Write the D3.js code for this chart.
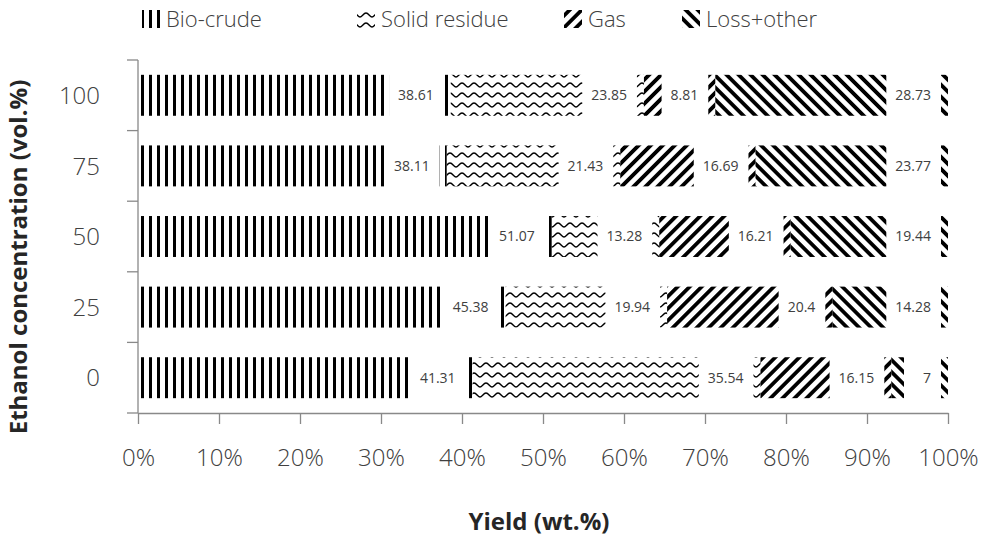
<!DOCTYPE html>
<html>
<head>
<meta charset="utf-8">
<script src="https://cdn.jsdelivr.net/npm/d3@7"></script>
<style>
  html, body { margin: 0; padding: 0; background: #fff; }
  svg { display: block; font-family: "Open Sans", "Noto Sans", sans-serif; }
</style>
</head>
<body>
<svg id="chart" width="987" height="537"></svg>
<script>
// Product yields by ethanol concentration (wt.%)
const concentrations = ["100", "75", "50", "25", "0"];
const seriesNames = ["Bio-crude", "Solid residue", "Gas", "Loss+other"];
const bioCrude     = [38.61, 38.11, 51.07, 45.38, 41.31];
const solidResidue = [23.85, 21.43, 13.28, 19.94, 35.54];
const gas          = [8.81, 16.69, 16.21, 20.4, 16.15];
const lossOther    = [28.73, 23.77, 19.44, 14.28, 7];
const xTicks = [0, 10, 20, 30, 40, 50, 60, 70, 80, 90, 100];

const svg = d3.select("#chart");
const plotLeft = 138, plotRight = 948, plotTop = 60, plotBottom = 413;
const axisColor = "#898989";
const textColor = "#404040";

// ---- fill patterns ----
const defs = svg.append("defs");
const pVert = defs.append("pattern").attr("id", "p-vert")
  .attr("patternUnits", "userSpaceOnUse").attr("width", 8).attr("height", 8);
pVert.append("rect").attr("x", 5).attr("y", 0).attr("width", 4).attr("height", 8).attr("fill", "#000");

const pWave = defs.append("pattern").attr("id", "p-wave")
  .attr("patternUnits", "userSpaceOnUse").attr("width", 12).attr("height", 10);
pWave.append("path").attr("d", "M0,7 C2,7 3.5,3 6,3 C8.5,3 10,7 12,7")
  .attr("fill", "none").attr("stroke", "#000").attr("stroke-width", 1.4);

const pUp = defs.append("pattern").attr("id", "p-up")
  .attr("patternUnits", "userSpaceOnUse").attr("width", 8.5).attr("height", 8.5)
  .attr("patternTransform", "rotate(45)");
pUp.append("rect").attr("x", 0).attr("y", 0).attr("width", 3.8).attr("height", 8.5).attr("fill", "#000");

const pDown = defs.append("pattern").attr("id", "p-down")
  .attr("patternUnits", "userSpaceOnUse").attr("width", 8.5).attr("height", 8.5)
  .attr("patternTransform", "rotate(-45)");
pDown.append("rect").attr("x", 0).attr("y", 0).attr("width", 3.8).attr("height", 8.5).attr("fill", "#000");

const fills = ["url(#p-vert)", "url(#p-wave)", "url(#p-up)", "url(#p-down)"];

// ---- scales ----
const x = d3.scaleLinear().domain([0, 100]).range([plotLeft, plotRight]);
const yCat = d3.scaleBand().domain(concentrations).range([plotTop, plotBottom]).padding(0);
const yBar = d3.scaleBand().domain(concentrations).range([plotTop, plotBottom])
  .paddingInner(0.42).paddingOuter(0.21);

// ---- stacked data ----
const rows = concentrations.map((c, i) => ({
  cat: c, "Bio-crude": bioCrude[i], "Solid residue": solidResidue[i],
  "Gas": gas[i], "Loss+other": lossOther[i]
}));
const stacked = d3.stack().keys(seriesNames)(rows);

// ---- bars ----
stacked.forEach((layer, si) => {
  svg.append("g").selectAll("rect").data(layer).join("rect")
    .attr("x", d => x(d[0]))
    .attr("y", d => yBar(d.data.cat))
    .attr("width", d => x(d[1]) - x(d[0]))
    .attr("height", yBar.bandwidth())
    .attr("fill", fills[si]);
});

// ---- value labels on white boxes near each segment end ----
const labelG = svg.append("g").attr("font-size", 14).attr("fill", textColor);
stacked.forEach((layer) => {
  layer.forEach(d => {
    const v = d.data[layer.key];
    const end = x(d[1]);
    const cy = yBar(d.data.cat) + yBar.bandwidth() / 2;
    const g = labelG.append("g");
    const box = g.append("rect").attr("fill", "#fff");
    const t = g.append("text").text(String(v))
      .attr("x", end - 17).attr("y", cy).attr("dy", "0.35em")
      .attr("text-anchor", "end");
    const w = t.node().getComputedTextLength();
    const bw = Math.max(37, w + 19);
    box.attr("x", end - 7 - bw).attr("y", yBar(d.data.cat) - 1)
      .attr("width", bw).attr("height", yBar.bandwidth() + 2);
  });
});

// ---- x axis ----
const xAxis = svg.append("g").attr("transform", `translate(0,${plotBottom})`)
  .call(d3.axisBottom(x).tickValues(xTicks).tickFormat(d => d + "%").tickSize(11).tickSizeOuter(0));
xAxis.select(".domain").attr("stroke", axisColor).attr("stroke-width", 1.3);
xAxis.selectAll(".tick line").attr("stroke", axisColor).attr("stroke-width", 1.3);
xAxis.selectAll(".tick text").attr("fill", textColor).attr("font-size", 24)
  .attr("font-weight", 300)
  .attr("font-family", "Open Sans, sans-serif").attr("y", 36);

// ---- y axis: line, boundary ticks, category labels ----
const yAxisG = svg.append("g");
yAxisG.append("line").attr("x1", plotLeft).attr("x2", plotLeft).attr("y1", plotTop).attr("y2", plotBottom)
  .attr("stroke", axisColor).attr("stroke-width", 1.3);
const bounds = concentrations.map(c => yCat(c)).concat([yCat(concentrations[concentrations.length - 1]) + yCat.bandwidth()]);
yAxisG.selectAll("line.tk").data(bounds).join("line").attr("class", "tk")
  .attr("x1", plotLeft - 11).attr("x2", plotLeft).attr("y1", d => d).attr("y2", d => d)
  .attr("stroke", axisColor).attr("stroke-width", 1.3);
yAxisG.selectAll("text").data(concentrations).join("text")
  .attr("x", 100).attr("y", d => yCat(d) + yCat.bandwidth() / 2).attr("dy", "0.36em")
  .attr("text-anchor", "end").attr("font-size", 24).attr("font-weight", 300).attr("fill", textColor)
  .text(d => d);

// ---- axis titles ----
svg.append("text").attr("x", 539).attr("y", 530).attr("text-anchor", "middle")
  .attr("font-size", 24).attr("font-weight", "bold").attr("fill", "#262626")
  .text("Yield (wt.%)");
svg.append("text").attr("transform", "translate(27,257) rotate(-90)")
  .attr("text-anchor", "middle").attr("font-size", 24).attr("font-weight", "bold").attr("fill", "#262626")
  .text("Ethanol concentration (vol.%)");

// ---- legend ----
const legendTextX = [166, 381, 588, 706];
const legend = svg.append("g");
seriesNames.forEach((name, i) => {
  legend.append("rect").attr("x", legendTextX[i] - 24).attr("y", 10).attr("width", 18).attr("height", 18)
    .attr("fill", fills[i]);
  legend.append("text").attr("x", legendTextX[i]).attr("y", 19).attr("dy", "0.35em")
    .attr("font-size", 22).attr("font-weight", 300).attr("fill", textColor).text(name);
});
</script>
</body>
</html>
